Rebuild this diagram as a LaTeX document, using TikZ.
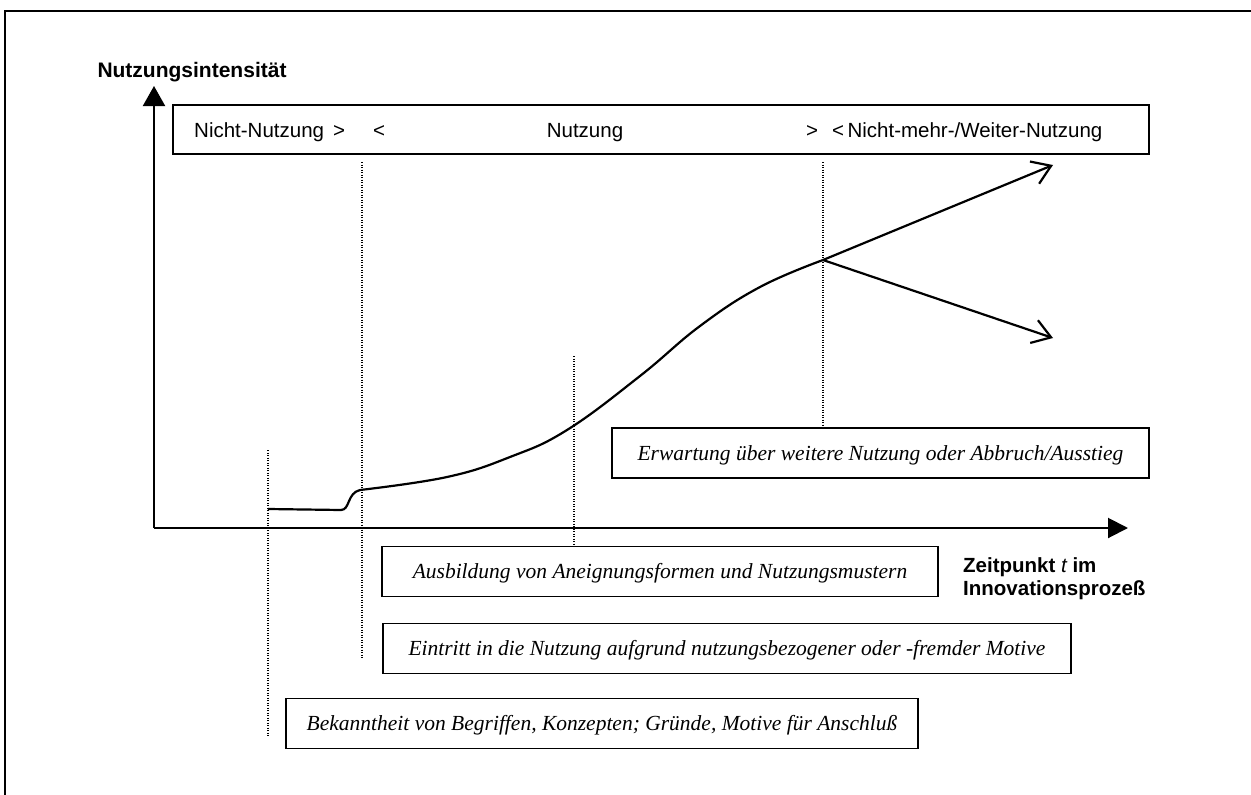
\documentclass[tikz,border=0pt]{standalone}
\usepackage{fontspec}
\setmainfont{Liberation Serif}
\setsansfont{Liberation Sans}
\usetikzlibrary{arrows.meta}

\tikzset{
  phasebox/.style={draw, line width=1.5pt, minimum height=50pt, inner sep=0pt,
    text height=14pt, text depth=0pt, font=\fontsize{21.5}{24}\selectfont\itshape},
  phasetext/.style={anchor=base west, inner sep=0pt, font=\sffamily\fontsize{20.5}{23}\selectfont},
  axislabel/.style={anchor=base west, inner sep=0pt, font=\sffamily\bfseries\fontsize{20.5}{23}\selectfont},
  markline/.style={line width=1.1pt, dash pattern=on 1.1pt off 1.4pt},
  usecurve/.style={line width=2.2pt},
}

\begin{document}
\begin{tikzpicture}[x=1pt, y=-1pt]
\useasboundingbox (0,0) rectangle (1251,795);
% frame
\draw[line width=2pt] (5,795) -- (5,11) -- (1251,11);

% axes
\coordinate (origin) at (154,528);
\coordinate (ytip) at (154,86);
\coordinate (xtip) at (1128,528);
\draw[line width=2pt, -{Triangle[length=20pt,width=22pt]}] (origin) -- (ytip);
\draw[line width=2pt, -{Triangle[length=20pt,width=20pt]}] (origin) -- (xtip);
\node[anchor=base, inner sep=0pt, font=\sffamily\bfseries\fontsize{21}{24}\selectfont] (ylab) at (192,77) {Nutzungsintensität};
\node[axislabel] (tlab) at (963,572) {Zeitpunkt {\mdseries\itshape t} im};
\node[axislabel] (tlabb) at (963,595) {Innovationsprozeß};

% phases
\node[draw, line width=1.5pt, minimum width=976pt, minimum height=49pt] (phases) at (661,129.5) {};
\node[phasetext] (nonuse) at (194,137) {Nicht-Nutzung};
\node[phasetext] (gta) at (333,137) {>};
\node[phasetext] (lta) at (373,137) {<};
\node[phasetext, anchor=base] (use) at (585,137) {Nutzung};
\node[phasetext] (gtb) at (806,137) {>};
\node[phasetext] (further) at (832,137) {<\,Nicht-mehr-/Weiter-Nutzung};

% dotted markers
\draw[markline] (268,450) -- (268,737);
\draw[markline] (362,162) -- (362,658);
\draw[markline] (574,356) -- (574,544);
\draw[markline] (823,162) -- (823,428);

% boxes
\node[phasebox, minimum width=537pt] (expect) at (880.5,453) {Erwartung über weitere Nutzung oder Abbruch/Ausstieg};
\node[phasebox, minimum width=556pt] (patterns) at (660,571.5) {Ausbildung von Aneignungsformen und Nutzungsmustern};
\node[phasebox, minimum width=688pt] (entry) at (727,648.5) {Eintritt in die Nutzung aufgrund nutzungsbezogener oder -fremder Motive};
\node[phasebox, minimum width=632pt] (aware) at (602,723.5) {Bekanntheit von Begriffen, Konzepten; Gründe, Motive für Anschluß};

% usage curve
\coordinate (fork) at (823,260);
\coordinate (goon) at (1053,165);
\coordinate (quit) at (1053,338);
\draw[usecurve] (268,509) -- (341,510) .. controls (350,510) and (347,493) .. (360,490)
  -- plot[smooth, tension=0.7] coordinates {(360,490) (447,477) (510,457) (567,430) (640,376) (700,326) (760,287) (fork)};
\draw[usecurve, -{Straight Barb[length=18pt,width=24pt]}] (fork) -- (goon);
\draw[usecurve, -{Straight Barb[length=18pt,width=24pt]}] (fork) -- (quit);
\end{tikzpicture}
\end{document}
